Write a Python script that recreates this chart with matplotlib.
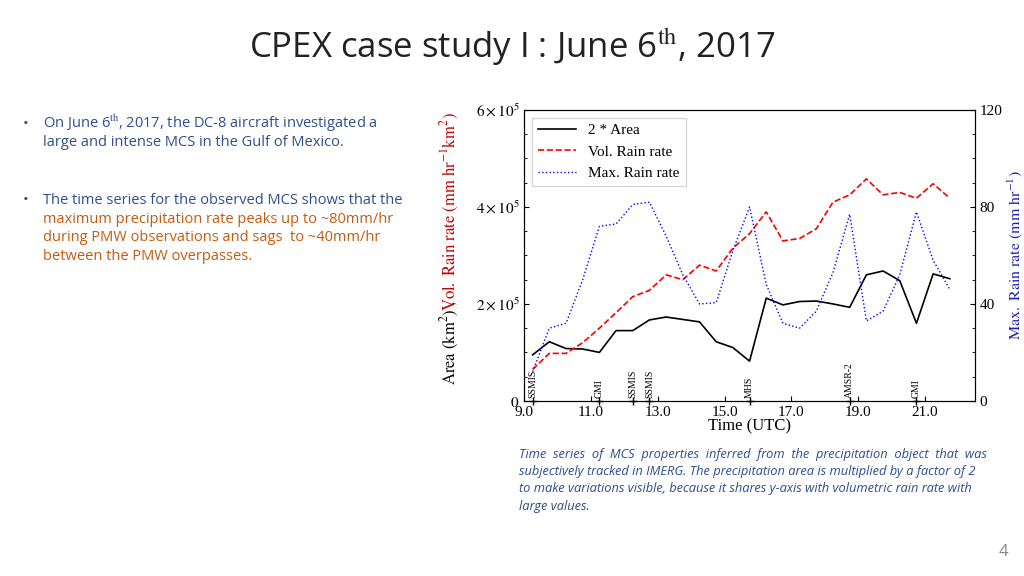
import numpy as np
import matplotlib.pyplot as plt

plt.rcParams['mathtext.fontset'] = 'stix'

# time (UTC), half-hourly
time = [9.25 + 0.5 * i for i in range(26)]
area2 = [0.95, 1.22, 1.08, 1.07, 1.00, 1.45, 1.45, 1.67, 1.73, 1.68, 1.63, 1.22, 1.10,
         0.82, 2.12, 1.98, 2.05, 2.06, 2.00, 1.93, 2.60, 2.68, 2.48, 1.60, 2.62, 2.52]
vol_rain = [0.65, 0.98, 0.98, 1.20, 1.50, 1.82, 2.15, 2.28, 2.60, 2.50, 2.80, 2.68, 3.15,
            3.45, 3.90, 3.30, 3.35, 3.55, 4.10, 4.25, 4.58, 4.25, 4.30, 4.18, 4.48, 4.18]
max_rain = [12, 30, 32, 50, 72, 73, 81, 82, 68, 52, 40, 40.5, 62,
            80, 48, 32, 30, 37, 53, 77, 33, 37, 52, 78, 58, 46]
sat_time = [9.25, 11.25, 12.25, 12.75, 15.75, 18.75, 20.75]
sat_name = ['SSMIS', 'GMI', 'SSMIS', 'SSMIS', 'MHS', 'AMSR-2', 'GMI']

fig = plt.figure(figsize=(10.24, 5.76), dpi=100)
serif = 'Liberation Serif'
sans = 'Open Sans'

fig.text(0.5, 0.9, 'CPEX case study I : June 6$^{\\mathrm{th}}$, 2017', ha='center',
         fontsize=25, family=sans, color='#222222')

blue_t = '#2f4f8f'
orange_t = '#c55a11'
fig.text(0.022, 0.778, '\u2022', fontsize=11, color=blue_t, family=sans)
fig.text(0.042, 0.778, 'On June 6$^{\\mathrm{th}}$, 2017, the DC-8 aircraft investigated a',
         fontsize=10.5, color=blue_t, family=sans)
fig.text(0.042, 0.746, 'large and intense MCS in the Gulf of Mexico.', fontsize=10.5, color=blue_t, family=sans)
fig.text(0.022, 0.645, '\u2022', fontsize=11, color=blue_t, family=sans)
fig.text(0.042, 0.645, 'The time series for the observed MCS shows that the', fontsize=10.5, color=blue_t, family=sans)
for i, s in enumerate(['maximum precipitation rate peaks up to ~80mm/hr',
                       'during PMW observations and sags  to ~40mm/hr',
                       'between the PMW overpasses.']):
    fig.text(0.042, 0.613 - 0.032 * i, s, fontsize=10.5, color=orange_t, family=sans)

cap = ['Time  series  of  MCS  properties  inferred  from  the  precipitation  object  that  was',
       'subjectively tracked in IMERG. The precipitation area is multiplied by a factor of 2',
       'to make variations visible, because it shares y-axis with volumetric rain rate with',
       'large values.']
for i, s in enumerate(cap):
    fig.text(0.507, 0.205 - 0.03 * i, s, fontsize=9.3, color=blue_t, family=sans, style='italic')
fig.text(0.985, 0.035, '4', ha='right', fontsize=12, color='#888888', family=sans)

ax = fig.add_axes([0.512, 0.304, 0.44, 0.505])
l1, = ax.plot(time, area2, color='black', lw=1.2, label='2 * Area')
l2, = ax.plot(time, vol_rain, color='red', lw=1.2, ls='--', label='Vol. Rain rate')
ax.set_xlim(9, 22.5)
ax.set_ylim(0, 6)
ax.set_xticks([9, 11, 13, 15, 17, 19, 21])
ax.set_xticklabels(['9.0', '11.0', '13.0', '15.0', '17.0', '19.0', '21.0'], family=serif, fontsize=11)
ax.set_yticks([0, 2, 4, 6])
ax.set_yticklabels([r'$0$', r'$2\times10^5$', r'$4\times10^5$', r'$6\times10^5$'], fontsize=11)
ax.set_yticks(np.arange(0, 6, 0.5), minor=True)
ax.set_xlabel('Time (UTC)', family=serif, fontsize=12, labelpad=0)
ax.text(-0.165, 0.2, r'$\mathrm{Area\ (km^2)\ ,}$', rotation=90, transform=ax.transAxes,
        ha='center', va='center', fontsize=12, color='black')
ax.text(-0.165, 0.65, r'$\mathrm{Vol.\ Rain\ rate\ (mm\ hr^{-1}km^2)}$', rotation=90, transform=ax.transAxes,
        ha='center', va='center', fontsize=12, color='#c00000')
ax.tick_params(direction='in', which='both')

for t, n in zip(sat_time, sat_name):
    ax.plot(t, 0, marker='+', color='black', ms=6, clip_on=False)
    ax.text(t, 0.05, n, rotation=90, fontsize=7, ha='center', va='bottom', family=serif)

ax2 = ax.twinx()
l3, = ax2.plot(time, max_rain, color='blue', lw=1.0, ls=':', label='Max. Rain rate')
ax2.set_ylim(0, 120)
ax2.set_yticks([0, 40, 80, 120])
ax2.set_yticklabels(['0', '40', '80', '120'], family=serif, fontsize=11)
ax2.set_yticks(np.arange(0, 120, 10), minor=True)
ax2.tick_params(direction='in', which='both')
ax2.set_ylabel(r'$\mathrm{Max.\ Rain\ rate\ (mm\ hr^{-1})}$', fontsize=11.5, color='#2020b0', labelpad=2)

leg = ax.legend(handles=[l1, l2, l3], loc='upper left', prop={'family': serif, 'size': 11},
                handlelength=2.5, fancybox=False)

fig.savefig('out.png', dpi=100)
